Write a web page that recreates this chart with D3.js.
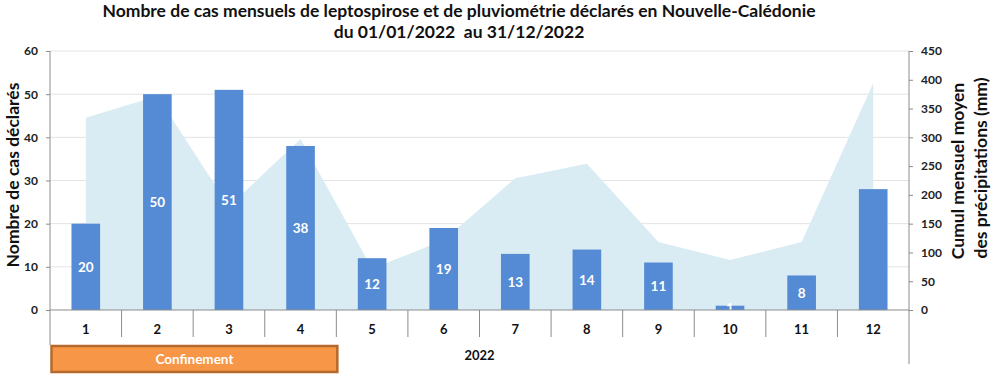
<!DOCTYPE html>
<html><head><meta charset="utf-8">
<script src="https://cdn.jsdelivr.net/npm/d3@7"></script>
<style>body{margin:0;background:#fff;}svg{display:block;font-family:Lato,"Open Sans",sans-serif;}text{white-space:pre;}</style>
</head><body><svg id="c" width="994" height="378"></svg>
<script>
const months = ["1","2","3","4","5","6","7","8","9","10","11","12"];
const cases = [20,50,51,38,12,19,13,14,11,1,8,28];
const rainfall = [334,372,180,297,72,121,229,254,118,87,118,394];
const labelledMonths = ["1","2","3","4","5","6","7","8","9","10","11"];
const leftTicks = [0,10,20,30,40,50,60];
const rightTicks = [0,50,100,150,200,250,300,350,400,450];
const titleLines = ["Nombre de cas mensuels de leptospirose et de pluviométrie déclarés en Nouvelle-Calédonie","du 01/01/2022  au 31/12/2022"];
const yearLabel = "2022";
const periodLabel = "Confinement";
const periodMonths = ["1","4"];

const svg = d3.select("#c");
const L = 50, R = 909, T = 51, B = 310;
const x = d3.scaleBand().domain(months).range([L, R]).paddingInner(0).paddingOuter(0);
const yL = d3.scaleLinear().domain([0,60]).range([B, T]);
const yR = d3.scaleLinear().domain([0,450]).range([B, T]);
const axisCol = "#8c8c8c";

// gridlines
svg.append("g").selectAll("line").data(leftTicks.filter(d=>d>0)).join("line")
  .attr("x1", L).attr("x2", R).attr("y1", d=>yL(d)).attr("y2", d=>yL(d))
  .attr("stroke", "#e3e3e3").attr("stroke-width", 1);

// area
const cx = d => x(d) + x.bandwidth()/2;
const area = d3.area().x((d,i)=>cx(months[i])).y0(yR(0)).y1(d=>yR(d));
svg.append("path").datum(rainfall).attr("d", area).attr("fill", "#daecf3");

// bars
const bw = x.bandwidth()*0.4;
svg.append("g").selectAll("rect").data(cases).join("rect")
  .attr("x", (d,i)=>cx(months[i]) - bw/2).attr("width", bw)
  .attr("y", d=>yL(d)).attr("height", d=>yL(0)-yL(d))
  .attr("fill", "#558bd4");

// bar labels
svg.append("g").selectAll("text").data(cases.map((v,i)=>({v,m:months[i]})).filter(d=>labelledMonths.includes(d.m))).join("text")
  .attr("x", d=>cx(d.m)).attr("y", d=>(yL(d.v)+yL(0))/2).attr("dy","0.36em")
  .attr("text-anchor","middle").attr("fill","#fff").attr("font-weight","bold").attr("font-size","13.5px")
  .text(d=>d.v);

// left axis
const la = svg.append("g").attr("transform", `translate(${L},0)`)
  .call(d3.axisLeft(yL).tickValues(leftTicks).tickSize(4).tickPadding(8));
la.select(".domain").remove();
la.selectAll("line").attr("stroke", axisCol);
la.selectAll("text").attr("font-family","Lato").attr("font-weight","bold").attr("font-size","12px").attr("fill","#222");
svg.append("line").attr("x1",L).attr("x2",L).attr("y1",T).attr("y2",345).attr("stroke",axisCol);

// right axis
const ra = svg.append("g").attr("transform", `translate(${R},0)`)
  .call(d3.axisRight(yR).tickValues(rightTicks).tickSize(4).tickPadding(8));
ra.select(".domain").remove();
ra.selectAll("line").attr("stroke", axisCol);
ra.selectAll("text").attr("font-family","Lato").attr("font-weight","bold").attr("font-size","12px").attr("fill","#222");
svg.append("line").attr("x1",R).attr("x2",R).attr("y1",T).attr("y2",364).attr("stroke",axisCol);

// bottom axis
svg.append("line").attr("x1",L).attr("x2",R).attr("y1",B).attr("y2",B).attr("stroke",axisCol);
svg.append("g").selectAll("line").data(months.slice(1)).join("line")
  .attr("x1", d=>x(d)).attr("x2", d=>x(d)).attr("y1", B).attr("y2", 337).attr("stroke", axisCol);
svg.append("g").selectAll("text").data(months).join("text")
  .attr("x", d=>cx(d)).attr("y", 329).attr("dy","0.35em").attr("text-anchor","middle")
  .attr("font-weight","bold").attr("font-size","13px").attr("fill","#111").text(d=>d);
svg.append("text").attr("x",(L+R)/2).attr("y",355).attr("dy","0.35em").attr("text-anchor","middle")
  .attr("font-weight","bold").attr("font-size","13px").attr("fill","#111").text(yearLabel);

// confinement box
const bx0 = x(periodMonths[0]) + 1.5, bx1 = x(periodMonths[1]) + x.bandwidth() + 1;
svg.append("rect").attr("x", bx0).attr("y", 346).attr("width", bx1-bx0).attr("height", 26)
  .attr("fill","#f79646").attr("stroke","#b5692d").attr("stroke-width",2.5);
svg.append("text").attr("x",(bx0+bx1)/2).attr("y",359.5).attr("dy","0.35em").attr("text-anchor","middle")
  .attr("fill","#fff").attr("font-weight","bold").attr("font-size","13.5px").text(periodLabel);

// titles
svg.append("g").selectAll("text").data(titleLines).join("text")
  .attr("x", 459).attr("y",(d,i)=>11+i*21).attr("dy","0.35em").attr("text-anchor","middle")
  .attr("font-weight","bold").attr("font-size","17.5px").attr("fill","#111").text(d=>d);
svg.append("text").attr("transform","translate(13,175) rotate(-90)").attr("dy","0.35em").attr("text-anchor","middle")
  .attr("font-weight","bold").attr("font-size","17.5px").attr("fill","#111").text("Nombre de cas déclarés");
svg.append("text").attr("transform","translate(958,171) rotate(-90)").attr("dy","0.35em").attr("text-anchor","middle")
  .attr("font-weight","bold").attr("font-size","17.5px").attr("fill","#111").text("Cumul mensuel moyen");
svg.append("text").attr("transform","translate(981,168) rotate(-90)").attr("dy","0.35em").attr("text-anchor","middle")
  .attr("font-weight","bold").attr("font-size","17.5px").attr("fill","#111").text("des précipitations (mm)");
</script></body></html>
